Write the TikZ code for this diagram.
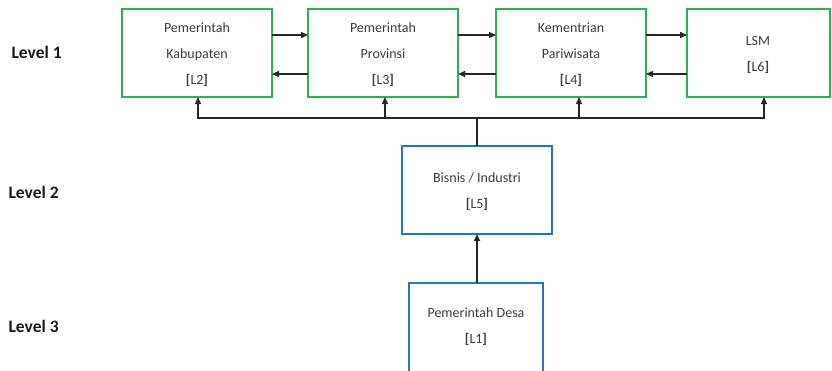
\documentclass[tikz,border=0pt]{standalone}
\usepackage{fontspec}
\setmainfont{Carlito}
\usetikzlibrary{arrows.meta}
\definecolor{bgreen}{RGB}{40,180,80}
\definecolor{bblue}{RGB}{30,120,200}
\definecolor{tgray}{RGB}{60,60,60}
\begin{document}
\begin{tikzpicture}[x=1pt,y=-1pt,
  gbox/.style={draw=bgreen,line width=2pt,fill=white,inner sep=0pt},
  bbox/.style={draw=bblue,line width=2pt,fill=white,inner sep=0pt},
  btxt/.style={text=tgray,font=\fontsize{14}{26}\selectfont,align=center},
  lvl/.style={font=\fontsize{17.5}{18}\selectfont\bfseries,text=black!90,anchor=west},
  arr/.style={-{Triangle[length=7pt,width=6pt]},line width=1.3pt,black!85}]
\useasboundingbox (0,0) rectangle (832,370);
% boxes
\draw[gbox] (122,9) rectangle (272,97);
\draw[gbox] (308,9) rectangle (458,97);
\draw[gbox] (496,9) rectangle (646,97);
\draw[gbox] (687,9) rectangle (830,97);
\draw[bbox] (402,146) rectangle (552,234);
\draw[bbox] (409,283) rectangle (543,372);
% named anchors
\coordinate (L2r1) at (272,35); \coordinate (L3l1) at (308,35);
\coordinate (L2r2) at (272,74); \coordinate (L3l2) at (308,74);
\coordinate (L3r1) at (458,35); \coordinate (L4l1) at (496,35);
\coordinate (L3r2) at (458,74); \coordinate (L4l2) at (496,74);
\coordinate (L4r1) at (646,35); \coordinate (L6l1) at (687,35);
\coordinate (L4r2) at (646,74); \coordinate (L6l2) at (687,74);
\coordinate (L5t) at (477,146); \coordinate (bus) at (477,118);
\coordinate (L2b) at (198,97); \coordinate (L3b) at (385,97);
\coordinate (L4b) at (579,97); \coordinate (L6b) at (764,97);
\coordinate (L5b) at (477,234); \coordinate (L1t) at (477,283);
% texts
\node[btxt] (t2) at (197,55) {Pemerintah\\Kabupaten\\\textbf{[}L2\textbf{]}};
\node[btxt] (t3) at (383,55) {Pemerintah\\Provinsi\\\textbf{[}L3\textbf{]}};
\node[btxt] (t4) at (571,55) {Kementrian\\Pariwisata\\\textbf{[}L4\textbf{]}};
\node[btxt] (t6) at (758,55) {LSM\\\textbf{[}L6\textbf{]}};
\node[btxt] (t5) at (477,192) {Bisnis / Industri\\\textbf{[}L5\textbf{]}};
\node[btxt] (t1) at (476,327) {Pemerintah Desa\\\textbf{[}L1\textbf{]}};
\node[lvl] (v1) at (8,52) {Level 1};
\node[lvl] (v2) at (5,192) {Level 2};
\node[lvl] (v3) at (5,326) {Level 3};
% horizontal arrows
\draw[arr] (L2r1) -- (L3l1);
\draw[arr] (L3l2) -- (L2r2);
\draw[arr] (L3r1) -- (L4l1);
\draw[arr] (L4l2) -- (L3r2);
\draw[arr] (L4r1) -- (L6l1);
\draw[arr] (L6l2) -- (L4r2);
% bus
\draw[line width=1.3pt,black!85] (L5t) -- (bus);
\draw[arr] (bus) -| (L2b);
\draw[arr] (bus) -| (L3b);
\draw[arr] (bus) -| (L4b);
\draw[arr] (bus) -| (L6b);
\draw[arr,line width=1.6pt] (L1t) -- (L5b);
\end{tikzpicture}
\end{document}
